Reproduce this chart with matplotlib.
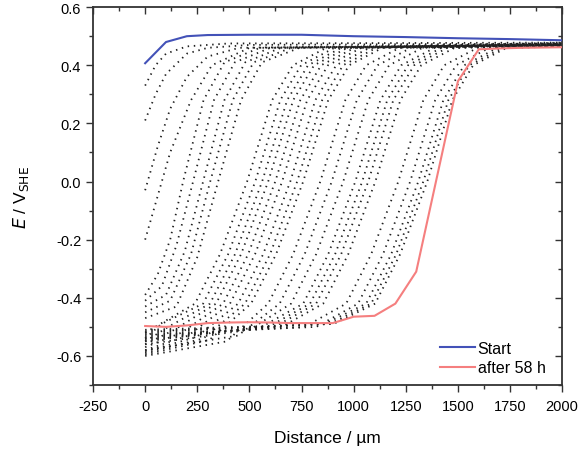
import matplotlib
matplotlib.use("Agg")
import matplotlib.pyplot as plt
from matplotlib.ticker import MultipleLocator

plt.rcParams["font.family"] = ["Liberation Sans", "DejaVu Sans"]
plt.rcParams["axes.unicode_minus"] = False

# start and final profiles
start_x = [0, 100, 200, 300, 500, 750, 1000, 1250, 1500, 1750, 2000]
start_y = [0.407, 0.48, 0.500, 0.504, 0.505, 0.505, 0.500, 0.497, 0.493, 0.490, 0.486]

end_x = [0, 100, 200, 300, 400, 500, 600, 700, 800, 900, 1000, 1100, 1200, 1300,
         1500, 1600, 1700, 1800, 1900, 2000]
end_y = [-0.497, -0.500, -0.495, -0.487, -0.485, -0.484, -0.485, -0.487, -0.487,
         -0.487, -0.465, -0.462, -0.420, -0.310, 0.345, 0.455, 0.458, 0.460, 0.461, 0.462]

# intermediate profiles (knots)
mid_profiles = [
    ([0, 50, 100, 200, 400, 2000], [0.33, 0.40, 0.44, 0.465, 0.475, 0.478]),
    ([0, 50, 100, 200, 300, 500, 2000], [0.21, 0.30, 0.37, 0.44, 0.46, 0.47, 0.475]),
    ([0, 60, 120, 200, 300, 450, 2000], [-0.03, 0.12, 0.25, 0.36, 0.43, 0.46, 0.475]),
    ([0, 60, 120, 220, 320, 500, 2000], [-0.20, -0.05, 0.10, 0.28, 0.40, 0.46, 0.47]),
    ([0, 60, 120, 182, 280, 380, 550, 2000], [-0.39, -0.32, -0.20, 0.0, 0.28, 0.41, 0.46, 0.472]),
    ([0, 80, 150, 230, 330, 430, 600, 2000], [-0.41, -0.36, -0.22, 0.0, 0.28, 0.41, 0.46, 0.47]),
    ([0, 100, 190, 278, 380, 480, 650, 2000], [-0.43, -0.39, -0.24, 0.0, 0.28, 0.41, 0.46, 0.47]),
    ([0, 120, 220, 312, 420, 520, 700, 2000], [-0.45, -0.41, -0.25, 0.0, 0.28, 0.41, 0.46, 0.47]),
    ([0, 150, 250, 350, 460, 560, 740, 2000], [-0.47, -0.43, -0.26, 0.0, 0.28, 0.41, 0.46, 0.47]),
    ([0, 239, 359, 489, 609, 709, 869, 2000], [-0.52, -0.42, -0.25, 0.0, 0.28, 0.40, 0.46, 0.47]),
    ([0, 78, 278, 398, 528, 648, 748, 908, 2000], [-0.54, -0.49, -0.42, -0.25, 0.0, 0.28, 0.40, 0.46, 0.475]),
    ([0, 111, 311, 431, 561, 681, 781, 941, 2000], [-0.55, -0.50, -0.42, -0.25, 0.0, 0.28, 0.40, 0.46, 0.47]),
    ([0, 140, 340, 460, 590, 710, 810, 970, 2000], [-0.56, -0.51, -0.42, -0.25, 0.0, 0.28, 0.40, 0.46, 0.478]),
    ([0, 174, 374, 494, 624, 744, 844, 1004, 2000], [-0.57, -0.52, -0.42, -0.25, 0.0, 0.28, 0.40, 0.46, 0.472]),
    ([0, 207, 407, 527, 657, 777, 877, 1037, 2000], [-0.58, -0.53, -0.42, -0.25, 0.0, 0.28, 0.40, 0.46, 0.476]),
    ([0, 246, 446, 566, 696, 816, 916, 1076, 2000], [-0.585, -0.535, -0.42, -0.25, 0.0, 0.28, 0.40, 0.46, 0.47]),
    ([0, 279, 479, 599, 729, 849, 949, 1109, 2000], [-0.59, -0.54, -0.42, -0.25, 0.0, 0.28, 0.40, 0.46, 0.474]),
    ([0, 308, 508, 628, 758, 878, 978, 1138, 2000], [-0.595, -0.545, -0.42, -0.25, 0.0, 0.28, 0.40, 0.46, 0.468]),
    ([0, 390, 590, 710, 840, 960, 1060, 1220, 2000], [-0.60, -0.55, -0.42, -0.25, 0.0, 0.28, 0.40, 0.46, 0.475]),
    ([0, 445, 645, 765, 895, 1015, 1115, 1275, 2000], [-0.58, -0.53, -0.42, -0.25, 0.0, 0.28, 0.40, 0.46, 0.47]),
    ([0, 500, 700, 820, 950, 1070, 1170, 1330, 2000], [-0.56, -0.51, -0.42, -0.25, 0.0, 0.28, 0.40, 0.46, 0.473]),
    ([0, 558, 758, 878, 1008, 1128, 1228, 1388, 2000], [-0.55, -0.50, -0.42, -0.25, 0.0, 0.28, 0.40, 0.46, 0.468]),
    ([0, 591, 791, 911, 1041, 1161, 1261, 1421, 2000], [-0.545, -0.50, -0.42, -0.25, 0.0, 0.28, 0.40, 0.46, 0.472]),
    ([0, 620, 820, 940, 1070, 1190, 1290, 1450, 2000], [-0.54, -0.50, -0.42, -0.25, 0.0, 0.28, 0.40, 0.46, 0.466]),
    ([0, 654, 854, 974, 1104, 1224, 1324, 1484, 2000], [-0.535, -0.50, -0.42, -0.25, 0.0, 0.28, 0.40, 0.46, 0.47]),
    ([0, 764, 964, 1084, 1214, 1334, 1434, 1594, 2000], [-0.53, -0.50, -0.42, -0.25, 0.0, 0.28, 0.40, 0.46, 0.468]),
    ([0, 821, 1021, 1141, 1271, 1391, 1491, 1651, 2000], [-0.525, -0.50, -0.42, -0.25, 0.0, 0.28, 0.40, 0.46, 0.465]),
    ([0, 860, 1060, 1180, 1310, 1430, 1530, 1690, 2000], [-0.52, -0.49, -0.42, -0.25, 0.0, 0.28, 0.40, 0.46, 0.467]),
    ([0, 884, 1084, 1204, 1334, 1454, 1554, 1714, 2000], [-0.515, -0.49, -0.42, -0.25, 0.0, 0.28, 0.40, 0.46, 0.464]),
    ([0, 903, 1103, 1223, 1353, 1473, 1573, 1733, 2000], [-0.51, -0.49, -0.42, -0.25, 0.0, 0.28, 0.40, 0.46, 0.466]),
]

fig = plt.figure(figsize=(5.85, 4.52), dpi=100)
ax = fig.add_axes([0.159, 0.146, 0.802, 0.836])

for xs, ys in mid_profiles:
    ax.plot(xs, ys, color="#202020", lw=1.3, linestyle=(0, (0.8, 2.6)), zorder=1)

ax.plot(start_x, start_y, color="#4352b8", lw=1.5, label="Start", zorder=3)
ax.plot(end_x, end_y, color="#f57f7f", lw=1.5, label="after 58 h", zorder=3)

ax.set_xlim(-250, 2000)
ax.set_ylim(-0.7, 0.6)
ax.xaxis.set_major_locator(MultipleLocator(250))
ax.xaxis.set_minor_locator(MultipleLocator(125))
ax.yaxis.set_major_locator(MultipleLocator(0.2))
ax.yaxis.set_minor_locator(MultipleLocator(0.1))
ax.yaxis.set_major_formatter(matplotlib.ticker.FuncFormatter(lambda v, p: "%.1f" % v))

ax.tick_params(which="both", direction="out", labelsize=10.5, color="#333333")
ax.tick_params(which="major", length=5, width=1.0)
ax.tick_params(which="minor", length=3, width=1.0)
ax.tick_params(axis="x", pad=5)
for s in ax.spines.values():
    s.set_linewidth(1.3)
    s.set_color("#333333")

# mirrored ticks on top and right
for side in ("top", "right"):
    sec = ax.secondary_xaxis("top") if side == "top" else ax.secondary_yaxis("right")
    axis = sec.xaxis if side == "top" else sec.yaxis
    if side == "top":
        axis.set_major_locator(MultipleLocator(250))
        axis.set_minor_locator(MultipleLocator(125))
    else:
        axis.set_major_locator(MultipleLocator(0.2))
        axis.set_minor_locator(MultipleLocator(0.1))
    sec.tick_params(which="both", direction="in", labelleft=False, labelright=False,
                    labeltop=False, labelbottom=False, color="#333333")
    sec.tick_params(which="major", length=5, width=1.0)
    sec.tick_params(which="minor", length=3, width=1.0)
    sec.spines[side].set_visible(False)

ax.set_xlabel("Distance / µm", fontsize=12.5, labelpad=12)
ax.set_ylabel(r"$\it{E}$ / V$_{\mathrm{SHE}}$", fontsize=12.5, labelpad=18)

ax.legend(loc="lower right", frameon=False, fontsize=11.5, handlelength=2.2,
          handletextpad=0.15, borderaxespad=0.2, labelspacing=0.3,
          bbox_to_anchor=(0.985, 0.0))

fig.savefig("out.png", dpi=100)
